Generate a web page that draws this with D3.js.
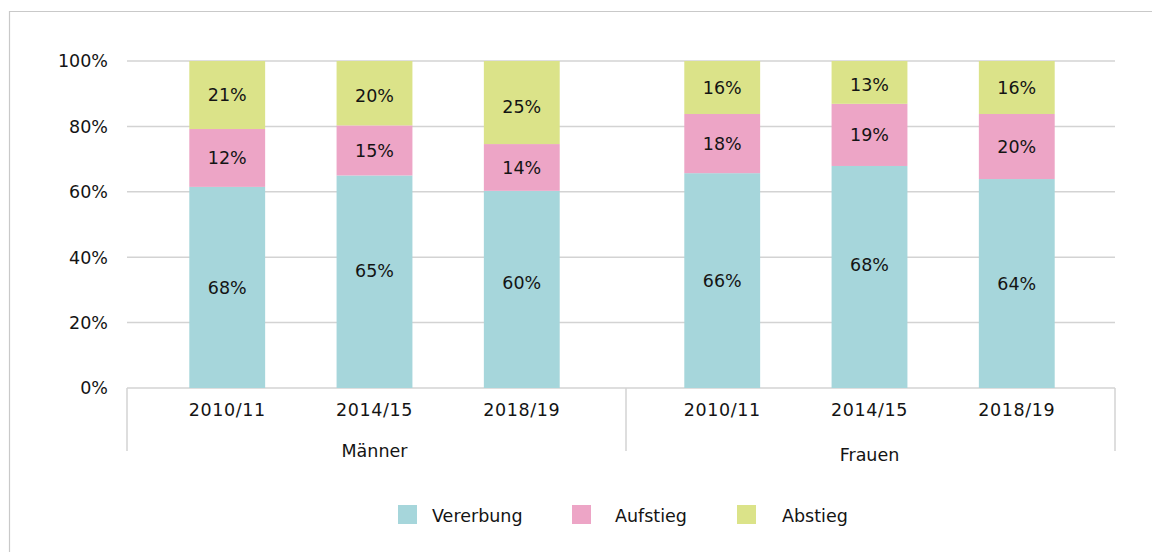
<!DOCTYPE html>
<html>
<head>
<meta charset="utf-8">
<script src="https://cdn.jsdelivr.net/npm/d3@7"></script>
<style>
  html, body { margin: 0; padding: 0; background: #fff; }
  svg { display: block; font-family: "DejaVu Sans", sans-serif; }
</style>
</head>
<body>
<div id="chart"></div>
<script>
// categories
var groups = ["Männer", "Frauen"];
var years = ["2010/11", "2014/15", "2018/19"];
var seriesNames = ["Vererbung", "Aufstieg", "Abstieg"];

// bar heights (as drawn), in %
var vererbung = [61.5, 65.0, 60.3, 65.7, 67.9, 63.9];
var aufstieg  = [17.7, 15.3, 14.3, 18.1, 19.0, 19.9];
var abstieg   = [20.8, 19.7, 25.4, 16.2, 13.1, 16.2];

// printed labels
var labVererbung = [68, 65, 60, 66, 68, 64];
var labAufstieg  = [12, 15, 14, 18, 19, 20];
var labAbstieg   = [21, 20, 25, 16, 13, 16];

var yTicks = [0, 20, 40, 60, 80, 100];

var colors = ["#a6d6db", "#eda5c6", "#dbe389"];

var width = 1152, height = 552,
  plotLeft = 127, plotRight = 1117, plotTop = 61, plotBottom = 388,
  fs = 17.5;

var rows = [];
groups.forEach(function(g, gi) {
  years.forEach(function(yr, yi) {
    var i = gi * years.length + yi;
    rows.push({
      idx: i, group: g, year: yr,
      Vererbung: vererbung[i], Aufstieg: aufstieg[i], Abstieg: abstieg[i],
      labels: [labVererbung[i], labAufstieg[i], labAbstieg[i]]
    });
  });
});

var stack = d3.stack().keys(seriesNames)(rows);

var x0 = d3.scaleBand().domain(groups).range([plotLeft, plotRight]);
var x1 = d3.scaleBand().domain(years).range([0, x0.bandwidth()])
  .paddingInner(0.485).paddingOuter(0.423);
var y = d3.scaleLinear().domain([0, 100]).range([plotBottom, plotTop]);
var color = d3.scaleOrdinal().domain(seriesNames).range(colors);

// hand placed labels in the original sit a bit off centre on some bars
var labelNudge = { "0-1": -11, "0-2": -7, "0-4": -12, "2-1": 2, "2-2": 4, "2-4": 2 };

var svg = d3.select("#chart").append("svg")
  .attr("width", width).attr("height", height);

// outer frame (only top and left are visible)
svg.append("path")
  .attr("d", "M9.5," + height + "V11.5H" + width)
  .attr("fill", "none").attr("stroke", "#c9c9c9").attr("stroke-width", 1.2);

// gridlines
svg.append("g").selectAll("line")
  .data(yTicks)
  .join("line")
  .attr("x1", plotLeft).attr("x2", plotRight - 2)
  .attr("y1", function(d) { return y(d); })
  .attr("y2", function(d) { return y(d); })
  .attr("stroke", "#d3d3d3").attr("stroke-width", 1.5);

// y labels
svg.append("g").selectAll("text")
  .data(yTicks)
  .join("text")
  .attr("x", 108)
  .attr("y", function(d) { return y(d); })
  .attr("dy", "0.36em")
  .attr("text-anchor", "end")
  .attr("font-size", fs)
  .attr("fill", "#141414")
  .text(function(d) { return d + "%"; });

// bars
var layer = svg.append("g").selectAll("g")
  .data(stack)
  .join("g")
  .attr("fill", function(d) { return color(d.key); });

layer.selectAll("rect")
  .data(function(d) { return d; })
  .join("rect")
  .attr("x", function(d) { return x0(d.data.group) + x1(d.data.year); })
  .attr("width", x1.bandwidth())
  .attr("y", function(d) { return y(d[1]); })
  .attr("height", function(d) { return y(d[0]) - y(d[1]); });

// value labels
stack.forEach(function(s, si) {
  svg.append("g").selectAll("text")
    .data(s)
    .join("text")
    .attr("x", function(d) { return x0(d.data.group) + x1(d.data.year) + x1.bandwidth() / 2; })
    .attr("y", function(d) {
      return (y(d[0]) + y(d[1])) / 2 + (labelNudge[si + "-" + d.data.idx] || 0);
    })
    .attr("dy", "0.36em")
    .attr("text-anchor", "middle")
    .attr("font-size", fs)
    .attr("fill", "#141414")
    .text(function(d) { return d.data.labels[si] + "%"; });
});

// category axis: separators
var seps = [x0(groups[0]), x0(groups[1]) + 4, plotRight - 2];
svg.append("g").selectAll("line")
  .data(seps)
  .join("line")
  .attr("x1", function(d) { return d; }).attr("x2", function(d) { return d; })
  .attr("y1", plotBottom).attr("y2", 451)
  .attr("stroke", "#d3d3d3").attr("stroke-width", 1.5);

// year labels
svg.append("g").selectAll("text")
  .data(rows)
  .join("text")
  .attr("x", function(d) { return x0(d.group) + x1(d.year) + x1.bandwidth() / 2; })
  .attr("y", 416)
  .attr("text-anchor", "middle")
  .attr("font-size", fs)
  .attr("letter-spacing", 0.6)
  .attr("fill", "#141414")
  .text(function(d) { return d.year; });

// group labels
svg.append("g").selectAll("text")
  .data(groups)
  .join("text")
  .attr("x", function(d) { return x0(d) + x0.bandwidth() / 2; })
  .attr("y", function(d, i) { return 457 + i * 4; })
  .attr("text-anchor", "middle")
  .attr("font-size", fs)
  .attr("fill", "#141414")
  .text(function(d) { return d; });

// legend
var legendX = [398, 572, 737];
var legend = svg.append("g").selectAll("g")
  .data(seriesNames)
  .join("g")
  .attr("transform", function(d, i) { return "translate(" + legendX[i] + ",505)"; });

legend.append("rect")
  .attr("width", 19).attr("height", 19)
  .attr("fill", function(d) { return color(d); });

legend.append("text")
  .attr("x", function(d, i) { return [34, 43, 45][i]; })
  .attr("y", 17)
  .attr("font-size", fs)
  .attr("fill", "#141414")
  .text(function(d) { return d; });
</script>
</body>
</html>
